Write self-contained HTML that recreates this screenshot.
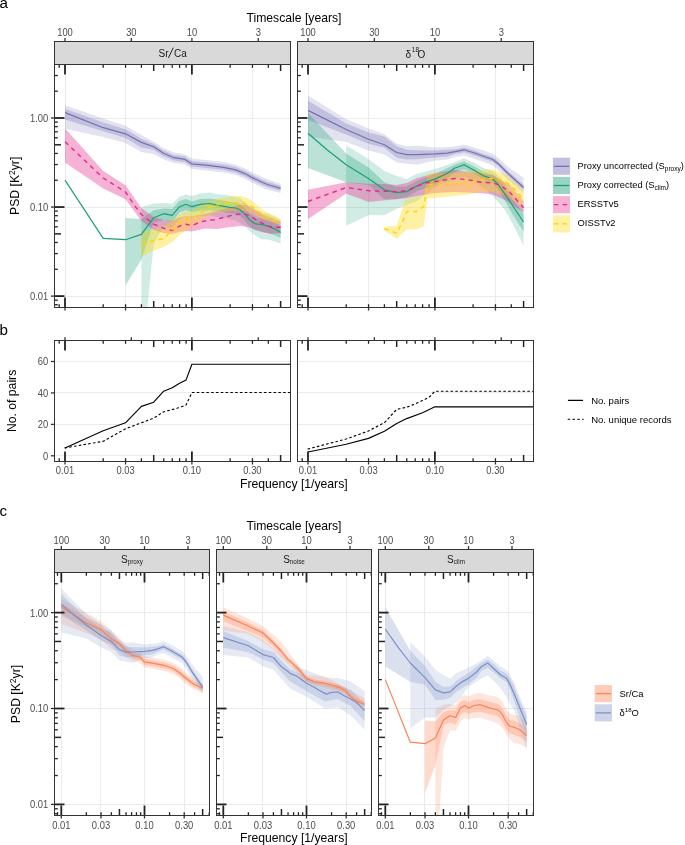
<!DOCTYPE html>
<html><head><meta charset="utf-8"><style>
html,body{margin:0;padding:0;background:#fff;}
svg{display:block;font-family:"Liberation Sans", sans-serif;will-change:transform;}
</style></head><body>
<svg width="685" height="845" viewBox="0 0 685 845">
<rect width="685" height="845" fill="#fff"/>
<text x="-0.60" y="7.80" font-size="15.2" fill="#000" text-anchor="start" >a</text>
<text x="294.00" y="22.30" font-size="12.2" fill="#000" text-anchor="middle" >Timescale [years]</text>
<clipPath id="ca0"><rect x="54.5" y="64.5" width="236.0" height="243.0"/></clipPath>
<line x1="54.50" y1="296.50" x2="290.50" y2="296.50" stroke="#EBEBEB" stroke-width="1" />
<line x1="54.50" y1="207.50" x2="290.50" y2="207.50" stroke="#EBEBEB" stroke-width="1" />
<line x1="54.50" y1="118.50" x2="290.50" y2="118.50" stroke="#EBEBEB" stroke-width="1" />
<line x1="65.50" y1="64.50" x2="65.50" y2="307.50" stroke="#EBEBEB" stroke-width="1" />
<line x1="125.50" y1="64.50" x2="125.50" y2="307.50" stroke="#EBEBEB" stroke-width="1" />
<line x1="191.50" y1="64.50" x2="191.50" y2="307.50" stroke="#EBEBEB" stroke-width="1" />
<line x1="252.50" y1="64.50" x2="252.50" y2="307.50" stroke="#EBEBEB" stroke-width="1" />
<rect x="54.50" y="41.50" width="236.00" height="23.00" fill="#D9D9D9" stroke="#333333" stroke-width="1" />
<line x1="65.00" y1="37.90" x2="65.00" y2="41.50" stroke="#333333" stroke-width="1.3" />
<text transform="translate(65.00,35.60) scale(1,1.13)" font-size="9.4" fill="#4D4D4D" text-anchor="middle">100</text>
<line x1="131.35" y1="37.90" x2="131.35" y2="41.50" stroke="#333333" stroke-width="1.3" />
<text transform="translate(131.35,35.60) scale(1,1.13)" font-size="9.4" fill="#4D4D4D" text-anchor="middle">30</text>
<line x1="191.90" y1="37.90" x2="191.90" y2="41.50" stroke="#333333" stroke-width="1.3" />
<text transform="translate(191.90,35.60) scale(1,1.13)" font-size="9.4" fill="#4D4D4D" text-anchor="middle">10</text>
<line x1="258.25" y1="37.90" x2="258.25" y2="41.50" stroke="#333333" stroke-width="1.3" />
<text transform="translate(258.25,35.60) scale(1,1.13)" font-size="9.4" fill="#4D4D4D" text-anchor="middle">3</text>
<line x1="65.00" y1="307.50" x2="65.00" y2="310.50" stroke="#333333" stroke-width="1.3" />
<line x1="125.55" y1="307.50" x2="125.55" y2="310.50" stroke="#333333" stroke-width="1.3" />
<line x1="191.90" y1="307.50" x2="191.90" y2="310.50" stroke="#333333" stroke-width="1.3" />
<line x1="252.45" y1="307.50" x2="252.45" y2="310.50" stroke="#333333" stroke-width="1.3" />
<g id="adata0"></g>
<polygon points="65.0,105.2 103.2,118.5 125.5,125.7 141.4,135.1 153.7,141.7 163.5,148.0 174.0,152.5 185.0,154.2 191.7,158.6 206.0,160.0 223.6,162.1 235.8,164.7 246.3,169.1 252.8,172.7 262.1,177.0 267.4,179.3 280.6,183.7 280.6,192.9 267.4,189.7 262.1,187.4 252.8,183.1 246.3,179.5 235.8,175.1 223.6,172.5 206.0,170.4 191.7,169.0 185.0,164.6 174.0,163.0 163.5,159.5 153.7,154.1 141.4,151.9 125.5,143.0 103.2,136.9 65.0,128.7" fill="#7570B3" fill-opacity="0.2" clip-path="url(#ca0)"/>
<polygon points="65.0,108.8 103.2,122.6 125.5,129.2 141.4,138.8 153.7,143.9 163.5,150.5 174.0,155.0 185.0,156.6 191.7,161.0 206.0,162.4 223.6,164.5 235.8,167.1 246.3,171.5 252.8,175.1 262.1,179.4 267.4,181.7 280.6,185.8 280.6,190.8 267.4,187.3 262.1,185.0 252.8,180.7 246.3,177.1 235.8,172.7 223.6,170.1 206.0,168.0 191.7,166.6 185.0,162.2 174.0,160.5 163.5,156.2 153.7,149.7 141.4,147.6 125.5,137.9 103.2,131.3 65.0,119.5" fill="#7570B3" fill-opacity="0.3" clip-path="url(#ca0)"/>
<polygon points="141.4,207.0 153.7,203.5 163.7,203.0 172.2,203.8 179.6,196.5 186.1,194.5 191.9,196.0 200.4,193.5 209.7,192.5 216.7,194.0 228.4,195.2 235.4,196.5 240.0,198.0 244.7,202.0 249.4,207.5 255.2,211.5 261.1,212.5 268.1,214.0 275.1,217.0 280.6,220.5 280.6,243.6 275.1,241.5 268.1,239.5 261.1,239.3 255.2,235.5 249.4,231.0 244.7,226.1 240.0,223.0 235.4,220.5 228.4,219.0 216.7,217.0 209.7,215.5 200.4,216.0 191.9,217.0 186.1,216.0 179.6,219.0 172.2,228.0 163.7,227.0 153.7,243.7 141.4,367.0" fill="#1B9E77" fill-opacity="0.2" clip-path="url(#ca0)"/>
<polygon points="125.5,218.1 141.4,219.0 153.7,210.2 163.7,208.5 172.2,209.0 179.6,200.8 186.1,199.1 191.9,201.4 200.4,199.0 209.7,198.5 216.7,199.5 228.4,201.5 235.4,202.5 240.0,204.0 244.7,208.0 249.4,213.5 255.2,217.5 261.1,218.5 268.1,220.0 275.1,223.0 280.6,226.5 280.6,238.0 275.1,235.5 268.1,233.0 261.1,231.5 255.2,230.5 249.4,226.5 244.7,220.5 240.0,216.0 235.4,214.0 228.4,213.0 216.7,211.0 209.7,210.2 200.4,210.5 191.9,211.9 186.1,210.2 179.6,212.5 172.2,221.9 163.7,220.1 153.7,222.4 141.4,259.6 125.5,285.5" fill="#1B9E77" fill-opacity="0.3" clip-path="url(#ca0)"/>
<polygon points="65.0,128.3 103.2,170.9 125.5,185.3 141.4,208.0 153.7,217.0 163.7,220.0 172.2,221.0 179.6,217.5 186.1,216.0 191.9,216.5 205.0,213.9 216.7,211.0 228.4,208.0 240.0,204.5 247.0,205.1 254.0,208.6 263.4,215.0 280.6,221.5 280.6,233.1 270.4,233.7 263.4,232.6 255.2,229.6 247.0,226.7 240.0,226.1 228.4,227.3 216.7,229.0 205.0,228.5 191.9,231.5 186.1,231.0 179.6,232.0 172.2,234.0 163.7,233.0 153.7,229.9 141.4,221.1 125.5,199.2 103.2,188.4 65.0,162.4" fill="#E7298A" fill-opacity="0.36" clip-path="url(#ca0)"/>
<polygon points="141.4,232.0 153.7,229.0 163.7,226.5 172.2,220.0 179.6,214.0 186.1,211.5 191.9,210.5 200.4,206.0 205.0,202.2 216.7,199.3 228.4,196.9 240.0,195.8 249.4,198.7 256.4,204.5 263.4,210.4 280.6,218.5 280.6,225.0 263.4,219.7 255.2,215.0 247.0,211.5 240.0,210.4 228.4,210.9 216.7,212.7 205.0,217.4 200.4,222.0 191.9,227.5 186.1,230.0 179.6,235.0 172.2,242.0 163.7,247.0 153.7,250.5 141.4,257.0" fill="#FFD700" fill-opacity="0.36" clip-path="url(#ca0)"/>
<polyline points="65.0,112.6 103.2,127.7 125.5,133.8 141.4,142.4 153.7,146.8 163.5,153.3 174.0,157.7 185.0,159.4 191.7,163.8 206.0,165.2 223.6,167.3 235.8,169.9 246.3,174.3 252.8,177.9 262.1,182.2 267.4,184.5 280.6,188.3" fill="none" stroke="#7570B3" stroke-width="1.2" stroke-linejoin="round" clip-path="url(#ca0)"/>
<polyline points="65.0,180.2 103.2,238.3 125.5,239.7 141.4,234.4 153.7,217.8 163.7,213.7 172.2,215.4 179.6,206.7 186.1,204.3 191.9,206.7 200.4,204.3 209.7,203.5 216.7,205.1 228.4,207.1 235.4,208.0 240.0,209.8 244.7,213.9 249.4,219.7 255.2,223.8 261.1,224.4 268.1,226.1 275.1,229.1 280.6,232.4" fill="none" stroke="#1B9E77" stroke-width="1.2" stroke-linejoin="round" clip-path="url(#ca0)"/>
<polyline points="65.0,141.7 103.2,178.0 125.5,192.0 135.0,206.1 141.4,214.5 153.7,224.2 163.7,228.3 172.2,230.6 179.6,226.0 186.1,224.2 191.9,225.6 200.4,221.9 209.7,220.1 214.3,219.7 223.7,217.4 235.4,214.5 243.5,213.9 249.4,215.6 255.2,219.1 261.1,222.6 268.1,226.1 275.1,227.3 280.6,227.3" fill="none" stroke="#E7298A" stroke-width="1.4" stroke-linejoin="round" stroke-dasharray="4.5 4.2" clip-path="url(#ca0)"/>
<polyline points="141.4,244.0 153.7,240.5 163.7,238.8 172.2,230.0 179.6,222.4 186.1,219.5 191.9,218.4 200.4,213.7 205.0,209.8 210.8,206.9 216.7,205.1 223.7,203.4 235.4,202.5 244.7,203.4 251.7,206.3 257.6,211.0 263.4,215.0 270.4,219.1 280.6,222.8" fill="none" stroke="#FFD400" stroke-width="1.4" stroke-linejoin="round" stroke-dasharray="4.5 4.2" clip-path="url(#ca0)"/>
<line x1="59.19" y1="64.50" x2="59.19" y2="67.80" stroke="#222222" stroke-width="1.3" />
<line x1="59.19" y1="307.50" x2="59.19" y2="304.20" stroke="#222222" stroke-width="1.3" />
<line x1="65.00" y1="64.50" x2="65.00" y2="74.50" stroke="#222222" stroke-width="1.8" />
<line x1="65.00" y1="307.50" x2="65.00" y2="297.50" stroke="#222222" stroke-width="1.8" />
<line x1="103.20" y1="64.50" x2="103.20" y2="67.80" stroke="#222222" stroke-width="1.3" />
<line x1="103.20" y1="307.50" x2="103.20" y2="304.20" stroke="#222222" stroke-width="1.3" />
<line x1="125.55" y1="64.50" x2="125.55" y2="67.80" stroke="#222222" stroke-width="1.3" />
<line x1="125.55" y1="307.50" x2="125.55" y2="304.20" stroke="#222222" stroke-width="1.3" />
<line x1="141.40" y1="64.50" x2="141.40" y2="67.80" stroke="#222222" stroke-width="1.3" />
<line x1="141.40" y1="307.50" x2="141.40" y2="304.20" stroke="#222222" stroke-width="1.3" />
<line x1="153.70" y1="64.50" x2="153.70" y2="71.00" stroke="#222222" stroke-width="1.5" />
<line x1="153.70" y1="307.50" x2="153.70" y2="301.00" stroke="#222222" stroke-width="1.5" />
<line x1="163.75" y1="64.50" x2="163.75" y2="67.80" stroke="#222222" stroke-width="1.3" />
<line x1="163.75" y1="307.50" x2="163.75" y2="304.20" stroke="#222222" stroke-width="1.3" />
<line x1="172.24" y1="64.50" x2="172.24" y2="67.80" stroke="#222222" stroke-width="1.3" />
<line x1="172.24" y1="307.50" x2="172.24" y2="304.20" stroke="#222222" stroke-width="1.3" />
<line x1="179.60" y1="64.50" x2="179.60" y2="67.80" stroke="#222222" stroke-width="1.3" />
<line x1="179.60" y1="307.50" x2="179.60" y2="304.20" stroke="#222222" stroke-width="1.3" />
<line x1="186.09" y1="64.50" x2="186.09" y2="67.80" stroke="#222222" stroke-width="1.3" />
<line x1="186.09" y1="307.50" x2="186.09" y2="304.20" stroke="#222222" stroke-width="1.3" />
<line x1="191.90" y1="64.50" x2="191.90" y2="74.50" stroke="#222222" stroke-width="1.8" />
<line x1="191.90" y1="307.50" x2="191.90" y2="297.50" stroke="#222222" stroke-width="1.8" />
<line x1="230.10" y1="64.50" x2="230.10" y2="67.80" stroke="#222222" stroke-width="1.3" />
<line x1="230.10" y1="307.50" x2="230.10" y2="304.20" stroke="#222222" stroke-width="1.3" />
<line x1="252.45" y1="64.50" x2="252.45" y2="67.80" stroke="#222222" stroke-width="1.3" />
<line x1="252.45" y1="307.50" x2="252.45" y2="304.20" stroke="#222222" stroke-width="1.3" />
<line x1="268.30" y1="64.50" x2="268.30" y2="67.80" stroke="#222222" stroke-width="1.3" />
<line x1="268.30" y1="307.50" x2="268.30" y2="304.20" stroke="#222222" stroke-width="1.3" />
<line x1="280.60" y1="64.50" x2="280.60" y2="71.00" stroke="#222222" stroke-width="1.5" />
<line x1="280.60" y1="307.50" x2="280.60" y2="301.00" stroke="#222222" stroke-width="1.5" />
<line x1="54.50" y1="304.73" x2="57.80" y2="304.73" stroke="#222222" stroke-width="1.3" />
<line x1="54.50" y1="300.17" x2="57.80" y2="300.17" stroke="#222222" stroke-width="1.3" />
<line x1="54.50" y1="296.10" x2="64.50" y2="296.10" stroke="#222222" stroke-width="1.8" />
<line x1="54.50" y1="269.29" x2="57.80" y2="269.29" stroke="#222222" stroke-width="1.3" />
<line x1="54.50" y1="253.61" x2="57.80" y2="253.61" stroke="#222222" stroke-width="1.3" />
<line x1="54.50" y1="242.49" x2="57.80" y2="242.49" stroke="#222222" stroke-width="1.3" />
<line x1="54.50" y1="233.86" x2="61.00" y2="233.86" stroke="#222222" stroke-width="1.5" />
<line x1="54.50" y1="226.81" x2="57.80" y2="226.81" stroke="#222222" stroke-width="1.3" />
<line x1="54.50" y1="220.84" x2="57.80" y2="220.84" stroke="#222222" stroke-width="1.3" />
<line x1="54.50" y1="215.68" x2="57.80" y2="215.68" stroke="#222222" stroke-width="1.3" />
<line x1="54.50" y1="211.12" x2="57.80" y2="211.12" stroke="#222222" stroke-width="1.3" />
<line x1="54.50" y1="207.05" x2="64.50" y2="207.05" stroke="#222222" stroke-width="1.8" />
<line x1="54.50" y1="180.24" x2="57.80" y2="180.24" stroke="#222222" stroke-width="1.3" />
<line x1="54.50" y1="164.56" x2="57.80" y2="164.56" stroke="#222222" stroke-width="1.3" />
<line x1="54.50" y1="153.44" x2="57.80" y2="153.44" stroke="#222222" stroke-width="1.3" />
<line x1="54.50" y1="144.81" x2="61.00" y2="144.81" stroke="#222222" stroke-width="1.5" />
<line x1="54.50" y1="137.76" x2="57.80" y2="137.76" stroke="#222222" stroke-width="1.3" />
<line x1="54.50" y1="131.79" x2="57.80" y2="131.79" stroke="#222222" stroke-width="1.3" />
<line x1="54.50" y1="126.63" x2="57.80" y2="126.63" stroke="#222222" stroke-width="1.3" />
<line x1="54.50" y1="122.07" x2="57.80" y2="122.07" stroke="#222222" stroke-width="1.3" />
<line x1="54.50" y1="118.00" x2="64.50" y2="118.00" stroke="#222222" stroke-width="1.8" />
<line x1="54.50" y1="91.19" x2="57.80" y2="91.19" stroke="#222222" stroke-width="1.3" />
<line x1="54.50" y1="75.51" x2="57.80" y2="75.51" stroke="#222222" stroke-width="1.3" />
<rect x="54.50" y="64.50" width="236.00" height="243.00" fill="none" stroke="#333333" stroke-width="1" />
<clipPath id="ca1"><rect x="297.5" y="64.5" width="236.0" height="243.0"/></clipPath>
<line x1="297.50" y1="296.50" x2="533.50" y2="296.50" stroke="#EBEBEB" stroke-width="1" />
<line x1="297.50" y1="207.50" x2="533.50" y2="207.50" stroke="#EBEBEB" stroke-width="1" />
<line x1="297.50" y1="118.50" x2="533.50" y2="118.50" stroke="#EBEBEB" stroke-width="1" />
<line x1="308.50" y1="64.50" x2="308.50" y2="307.50" stroke="#EBEBEB" stroke-width="1" />
<line x1="368.50" y1="64.50" x2="368.50" y2="307.50" stroke="#EBEBEB" stroke-width="1" />
<line x1="434.50" y1="64.50" x2="434.50" y2="307.50" stroke="#EBEBEB" stroke-width="1" />
<line x1="495.50" y1="64.50" x2="495.50" y2="307.50" stroke="#EBEBEB" stroke-width="1" />
<rect x="297.50" y="41.50" width="236.00" height="23.00" fill="#D9D9D9" stroke="#333333" stroke-width="1" />
<line x1="308.00" y1="37.90" x2="308.00" y2="41.50" stroke="#333333" stroke-width="1.3" />
<text transform="translate(308.00,35.60) scale(1,1.13)" font-size="9.4" fill="#4D4D4D" text-anchor="middle">100</text>
<line x1="374.35" y1="37.90" x2="374.35" y2="41.50" stroke="#333333" stroke-width="1.3" />
<text transform="translate(374.35,35.60) scale(1,1.13)" font-size="9.4" fill="#4D4D4D" text-anchor="middle">30</text>
<line x1="434.90" y1="37.90" x2="434.90" y2="41.50" stroke="#333333" stroke-width="1.3" />
<text transform="translate(434.90,35.60) scale(1,1.13)" font-size="9.4" fill="#4D4D4D" text-anchor="middle">10</text>
<line x1="501.25" y1="37.90" x2="501.25" y2="41.50" stroke="#333333" stroke-width="1.3" />
<text transform="translate(501.25,35.60) scale(1,1.13)" font-size="9.4" fill="#4D4D4D" text-anchor="middle">3</text>
<line x1="308.00" y1="307.50" x2="308.00" y2="310.50" stroke="#333333" stroke-width="1.3" />
<line x1="368.55" y1="307.50" x2="368.55" y2="310.50" stroke="#333333" stroke-width="1.3" />
<line x1="434.90" y1="307.50" x2="434.90" y2="310.50" stroke="#333333" stroke-width="1.3" />
<line x1="495.45" y1="307.50" x2="495.45" y2="310.50" stroke="#333333" stroke-width="1.3" />
<g id="adata1"></g>
<polygon points="308.0,95.5 346.2,119.3 368.5,128.5 384.4,134.2 396.7,143.7 406.7,146.3 417.0,145.5 434.9,147.6 447.3,147.0 455.0,146.5 464.1,144.6 474.5,147.5 483.6,150.5 492.7,153.7 497.9,157.5 507.0,166.0 523.6,177.7 523.6,193.3 507.0,179.0 497.9,169.5 492.7,165.4 483.6,162.0 474.5,159.0 464.1,155.6 455.0,157.0 447.3,159.5 434.9,160.4 417.0,164.7 406.7,163.7 396.7,162.6 384.4,154.5 368.5,150.5 346.2,142.0 308.0,136.6" fill="#7570B3" fill-opacity="0.2" clip-path="url(#ca1)"/>
<polygon points="308.0,100.8 346.2,123.4 368.5,132.6 384.4,136.5 396.7,146.3 406.7,149.8 417.0,150.2 434.9,150.5 447.3,149.8 455.0,149.3 464.1,147.4 474.5,150.6 483.6,153.9 492.7,157.1 497.9,161.0 507.0,170.0 523.6,184.8 523.6,190.2 507.0,175.0 497.9,165.8 492.7,161.9 483.6,158.7 474.5,155.4 464.1,152.2 455.0,154.1 447.3,156.6 434.9,157.5 417.0,159.3 406.7,159.5 396.7,157.7 384.4,147.8 368.5,143.8 346.2,134.6 308.0,120.1" fill="#7570B3" fill-opacity="0.3" clip-path="url(#ca1)"/>
<polygon points="346.2,145.5 368.5,159.0 384.4,171.0 396.7,176.1 406.8,179.3 415.2,174.5 417.0,174.0 434.9,169.0 447.3,165.0 455.0,162.0 464.1,158.2 474.5,163.0 483.6,168.0 492.7,171.0 497.9,175.5 504.4,183.0 512.2,195.0 523.6,210.2 523.6,245.4 512.2,223.0 504.4,209.0 497.9,202.0 492.7,196.0 483.6,188.0 474.5,182.0 464.1,176.5 455.0,179.0 447.3,182.0 434.9,187.0 417.0,201.1 406.8,204.9 396.7,208.7 384.4,215.3 368.5,215.3 346.2,225.7" fill="#1B9E77" fill-opacity="0.2" clip-path="url(#ca1)"/>
<polygon points="308.0,113.1 346.2,153.4 368.5,167.5 384.4,182.2 396.7,187.0 406.8,186.5 417.0,181.0 434.9,174.0 447.3,168.0 455.0,164.5 464.1,161.5 474.5,166.5 483.6,171.9 492.7,174.5 497.9,178.5 504.4,186.2 512.2,199.0 523.6,214.1 523.6,231.7 512.2,214.0 504.4,199.8 497.9,189.0 492.7,182.5 483.6,179.0 474.5,174.0 464.1,169.3 455.0,172.0 447.3,178.5 434.9,184.5 417.0,191.0 406.8,197.0 396.7,199.0 384.4,199.2 368.5,185.0 346.2,182.2 308.0,168.0" fill="#1B9E77" fill-opacity="0.3" clip-path="url(#ca1)"/>
<polygon points="308.0,189.8 346.2,182.2 368.5,183.7 384.4,184.1 396.7,185.0 406.8,183.1 417.0,178.0 434.9,173.2 455.0,169.9 481.0,173.8 492.7,175.0 509.6,185.0 523.6,201.1 523.6,212.8 507.0,201.1 492.7,194.6 481.0,193.3 455.0,192.0 434.9,192.9 417.0,196.0 406.8,198.3 396.7,199.2 384.4,200.2 368.5,202.1 346.2,193.5 308.0,219.1" fill="#E7298A" fill-opacity="0.36" clip-path="url(#ca1)"/>
<polygon points="384.4,226.5 396.7,226.0 404.9,200.2 406.8,199.8 415.8,197.0 423.6,194.9 427.6,174.2 434.9,173.2 455.0,172.5 481.0,170.6 492.7,169.3 507.0,175.1 523.6,190.7 523.6,207.6 507.0,196.0 492.7,192.0 481.0,192.0 468.0,194.6 455.0,196.0 434.9,197.8 427.6,198.8 423.6,226.4 415.8,229.4 406.8,229.4 404.9,231.0 396.7,239.0 384.4,230.5" fill="#FFD700" fill-opacity="0.36" clip-path="url(#ca1)"/>
<polyline points="308.0,110.4 346.2,129.5 368.5,139.2 384.4,144.7 396.7,152.5 406.7,154.7 417.0,154.6 434.9,153.9 447.3,153.1 455.0,151.7 464.1,149.8 474.5,153.0 483.6,156.3 492.7,159.5 497.9,163.4 507.0,172.5 523.6,187.5" fill="none" stroke="#7570B3" stroke-width="1.2" stroke-linejoin="round" clip-path="url(#ca1)"/>
<polyline points="308.0,133.2 327.3,150.0 346.2,164.8 368.5,178.4 384.4,189.8 396.7,192.6 406.8,191.6 417.0,186.0 425.6,182.1 434.9,179.1 447.3,173.2 455.0,168.0 464.1,164.7 474.5,170.6 483.6,175.8 492.7,179.0 497.9,184.2 504.4,193.3 512.2,205.0 523.6,222.0" fill="none" stroke="#1B9E77" stroke-width="1.2" stroke-linejoin="round" clip-path="url(#ca1)"/>
<polyline points="308.0,201.5 346.2,187.5 368.5,190.7 384.4,191.3 396.7,191.6 406.8,190.7 417.0,186.0 425.6,183.1 434.9,181.5 453.2,178.7 455.0,178.4 468.0,179.7 481.0,182.3 492.7,182.9 500.5,185.5 509.6,192.0 523.6,207.8" fill="none" stroke="#E7298A" stroke-width="1.4" stroke-linejoin="round" stroke-dasharray="4.5 4.2" clip-path="url(#ca1)"/>
<polyline points="384.4,228.6 396.7,233.3 404.9,216.3 406.8,211.5 415.8,211.6 423.6,206.7 427.6,185.0 434.9,184.1 453.2,184.1 455.0,183.6 468.0,182.3 481.0,179.7 490.1,178.4 499.2,179.0 507.0,182.9 514.8,189.4 523.6,199.5" fill="none" stroke="#FFD400" stroke-width="1.4" stroke-linejoin="round" stroke-dasharray="4.5 4.2" clip-path="url(#ca1)"/>
<line x1="302.19" y1="64.50" x2="302.19" y2="67.80" stroke="#222222" stroke-width="1.3" />
<line x1="302.19" y1="307.50" x2="302.19" y2="304.20" stroke="#222222" stroke-width="1.3" />
<line x1="308.00" y1="64.50" x2="308.00" y2="74.50" stroke="#222222" stroke-width="1.8" />
<line x1="308.00" y1="307.50" x2="308.00" y2="297.50" stroke="#222222" stroke-width="1.8" />
<line x1="346.20" y1="64.50" x2="346.20" y2="67.80" stroke="#222222" stroke-width="1.3" />
<line x1="346.20" y1="307.50" x2="346.20" y2="304.20" stroke="#222222" stroke-width="1.3" />
<line x1="368.55" y1="64.50" x2="368.55" y2="67.80" stroke="#222222" stroke-width="1.3" />
<line x1="368.55" y1="307.50" x2="368.55" y2="304.20" stroke="#222222" stroke-width="1.3" />
<line x1="384.40" y1="64.50" x2="384.40" y2="67.80" stroke="#222222" stroke-width="1.3" />
<line x1="384.40" y1="307.50" x2="384.40" y2="304.20" stroke="#222222" stroke-width="1.3" />
<line x1="396.70" y1="64.50" x2="396.70" y2="71.00" stroke="#222222" stroke-width="1.5" />
<line x1="396.70" y1="307.50" x2="396.70" y2="301.00" stroke="#222222" stroke-width="1.5" />
<line x1="406.75" y1="64.50" x2="406.75" y2="67.80" stroke="#222222" stroke-width="1.3" />
<line x1="406.75" y1="307.50" x2="406.75" y2="304.20" stroke="#222222" stroke-width="1.3" />
<line x1="415.24" y1="64.50" x2="415.24" y2="67.80" stroke="#222222" stroke-width="1.3" />
<line x1="415.24" y1="307.50" x2="415.24" y2="304.20" stroke="#222222" stroke-width="1.3" />
<line x1="422.60" y1="64.50" x2="422.60" y2="67.80" stroke="#222222" stroke-width="1.3" />
<line x1="422.60" y1="307.50" x2="422.60" y2="304.20" stroke="#222222" stroke-width="1.3" />
<line x1="429.09" y1="64.50" x2="429.09" y2="67.80" stroke="#222222" stroke-width="1.3" />
<line x1="429.09" y1="307.50" x2="429.09" y2="304.20" stroke="#222222" stroke-width="1.3" />
<line x1="434.90" y1="64.50" x2="434.90" y2="74.50" stroke="#222222" stroke-width="1.8" />
<line x1="434.90" y1="307.50" x2="434.90" y2="297.50" stroke="#222222" stroke-width="1.8" />
<line x1="473.10" y1="64.50" x2="473.10" y2="67.80" stroke="#222222" stroke-width="1.3" />
<line x1="473.10" y1="307.50" x2="473.10" y2="304.20" stroke="#222222" stroke-width="1.3" />
<line x1="495.45" y1="64.50" x2="495.45" y2="67.80" stroke="#222222" stroke-width="1.3" />
<line x1="495.45" y1="307.50" x2="495.45" y2="304.20" stroke="#222222" stroke-width="1.3" />
<line x1="511.30" y1="64.50" x2="511.30" y2="67.80" stroke="#222222" stroke-width="1.3" />
<line x1="511.30" y1="307.50" x2="511.30" y2="304.20" stroke="#222222" stroke-width="1.3" />
<line x1="523.60" y1="64.50" x2="523.60" y2="71.00" stroke="#222222" stroke-width="1.5" />
<line x1="523.60" y1="307.50" x2="523.60" y2="301.00" stroke="#222222" stroke-width="1.5" />
<line x1="297.50" y1="304.73" x2="300.80" y2="304.73" stroke="#222222" stroke-width="1.3" />
<line x1="297.50" y1="300.17" x2="300.80" y2="300.17" stroke="#222222" stroke-width="1.3" />
<line x1="297.50" y1="296.10" x2="307.50" y2="296.10" stroke="#222222" stroke-width="1.8" />
<line x1="297.50" y1="269.29" x2="300.80" y2="269.29" stroke="#222222" stroke-width="1.3" />
<line x1="297.50" y1="253.61" x2="300.80" y2="253.61" stroke="#222222" stroke-width="1.3" />
<line x1="297.50" y1="242.49" x2="300.80" y2="242.49" stroke="#222222" stroke-width="1.3" />
<line x1="297.50" y1="233.86" x2="304.00" y2="233.86" stroke="#222222" stroke-width="1.5" />
<line x1="297.50" y1="226.81" x2="300.80" y2="226.81" stroke="#222222" stroke-width="1.3" />
<line x1="297.50" y1="220.84" x2="300.80" y2="220.84" stroke="#222222" stroke-width="1.3" />
<line x1="297.50" y1="215.68" x2="300.80" y2="215.68" stroke="#222222" stroke-width="1.3" />
<line x1="297.50" y1="211.12" x2="300.80" y2="211.12" stroke="#222222" stroke-width="1.3" />
<line x1="297.50" y1="207.05" x2="307.50" y2="207.05" stroke="#222222" stroke-width="1.8" />
<line x1="297.50" y1="180.24" x2="300.80" y2="180.24" stroke="#222222" stroke-width="1.3" />
<line x1="297.50" y1="164.56" x2="300.80" y2="164.56" stroke="#222222" stroke-width="1.3" />
<line x1="297.50" y1="153.44" x2="300.80" y2="153.44" stroke="#222222" stroke-width="1.3" />
<line x1="297.50" y1="144.81" x2="304.00" y2="144.81" stroke="#222222" stroke-width="1.5" />
<line x1="297.50" y1="137.76" x2="300.80" y2="137.76" stroke="#222222" stroke-width="1.3" />
<line x1="297.50" y1="131.79" x2="300.80" y2="131.79" stroke="#222222" stroke-width="1.3" />
<line x1="297.50" y1="126.63" x2="300.80" y2="126.63" stroke="#222222" stroke-width="1.3" />
<line x1="297.50" y1="122.07" x2="300.80" y2="122.07" stroke="#222222" stroke-width="1.3" />
<line x1="297.50" y1="118.00" x2="307.50" y2="118.00" stroke="#222222" stroke-width="1.8" />
<line x1="297.50" y1="91.19" x2="300.80" y2="91.19" stroke="#222222" stroke-width="1.3" />
<line x1="297.50" y1="75.51" x2="300.80" y2="75.51" stroke="#222222" stroke-width="1.3" />
<rect x="297.50" y="64.50" width="236.00" height="243.00" fill="none" stroke="#333333" stroke-width="1" />
<text x="158.60" y="56.60" font-size="10" fill="#1A1A1A" text-anchor="start" >Sr</text>
<line x1="168.40" y1="58.00" x2="173.30" y2="47.60" stroke="#1A1A1A" stroke-width="0.95" />
<text x="174.00" y="56.60" font-size="10" fill="#1A1A1A" text-anchor="start" >Ca</text>
<text x="405.60" y="57.60" font-size="10" fill="#1A1A1A" text-anchor="start" >δ</text>
<text x="411.80" y="52.40" font-size="6.5" fill="#1A1A1A" text-anchor="start" >18</text>
<text x="417.50" y="57.60" font-size="10" fill="#1A1A1A" text-anchor="start" >O</text>
<line x1="50.90" y1="118.00" x2="54.50" y2="118.00" stroke="#333333" stroke-width="1.3" />
<text transform="translate(48.30,121.90) scale(1,1.13)" font-size="9.4" fill="#4D4D4D" text-anchor="end">1.00</text>
<line x1="50.90" y1="207.05" x2="54.50" y2="207.05" stroke="#333333" stroke-width="1.3" />
<text transform="translate(48.30,210.95) scale(1,1.13)" font-size="9.4" fill="#4D4D4D" text-anchor="end">0.10</text>
<line x1="50.90" y1="296.10" x2="54.50" y2="296.10" stroke="#333333" stroke-width="1.3" />
<text transform="translate(48.30,300.00) scale(1,1.13)" font-size="9.4" fill="#4D4D4D" text-anchor="end">0.01</text>
<text transform="translate(19.3,185.8) rotate(-90)" font-size="12.2" fill="#000" text-anchor="middle">PSD [K<tspan dy="-4.5" font-size="8.5">2</tspan><tspan dy="4.5">yr]</tspan></text>
<rect x="552.90" y="157.70" width="17.20" height="17.10" fill="#7570B3" stroke="none" stroke-width="0" fill-opacity="0.44"/>
<line x1="553.90" y1="166.30" x2="569.20" y2="166.30" stroke="#7570B3" stroke-width="1.3" />
<text x="577.5" y="168.60" font-size="9.3" fill="#000">Proxy uncorrected (S<tspan font-size="6.5" dy="2.4">proxy</tspan><tspan dy="-2.4">)</tspan></text>
<rect x="552.90" y="176.90" width="17.20" height="17.10" fill="#1B9E77" stroke="none" stroke-width="0" fill-opacity="0.44"/>
<line x1="553.90" y1="185.50" x2="569.20" y2="185.50" stroke="#1B9E77" stroke-width="1.3" />
<text x="577.5" y="187.80" font-size="9.3" fill="#000">Proxy corrected (S<tspan font-size="6.5" dy="2.4">clim</tspan><tspan dy="-2.4">)</tspan></text>
<rect x="552.90" y="196.10" width="17.20" height="17.10" fill="#E7298A" stroke="none" stroke-width="0" fill-opacity="0.36"/>
<line x1="553.90" y1="204.70" x2="569.20" y2="204.70" stroke="#E7298A" stroke-width="1.3" stroke-dasharray="4.5 4.2"/>
<text x="577.50" y="207.00" font-size="9.4" fill="#000" text-anchor="start" >ERSSTv5</text>
<rect x="552.90" y="215.30" width="17.20" height="17.10" fill="#FFD700" stroke="none" stroke-width="0" fill-opacity="0.36"/>
<line x1="553.90" y1="223.90" x2="569.20" y2="223.90" stroke="#FFD400" stroke-width="1.3" stroke-dasharray="4.5 4.2"/>
<text x="577.50" y="226.20" font-size="9.4" fill="#000" text-anchor="start" >OISSTv2</text>
<text x="-0.60" y="334.80" font-size="15.2" fill="#000" text-anchor="start" >b</text>
<line x1="54.50" y1="455.50" x2="290.50" y2="455.50" stroke="#EBEBEB" stroke-width="1" />
<line x1="54.50" y1="424.50" x2="290.50" y2="424.50" stroke="#EBEBEB" stroke-width="1" />
<line x1="54.50" y1="392.50" x2="290.50" y2="392.50" stroke="#EBEBEB" stroke-width="1" />
<line x1="54.50" y1="361.50" x2="290.50" y2="361.50" stroke="#EBEBEB" stroke-width="1" />
<line x1="65.00" y1="337.30" x2="65.00" y2="340.50" stroke="#333333" stroke-width="1.3" />
<line x1="131.35" y1="337.30" x2="131.35" y2="340.50" stroke="#333333" stroke-width="1.3" />
<line x1="191.90" y1="337.30" x2="191.90" y2="340.50" stroke="#333333" stroke-width="1.3" />
<line x1="258.25" y1="337.30" x2="258.25" y2="340.50" stroke="#333333" stroke-width="1.3" />
<line x1="65.00" y1="461.50" x2="65.00" y2="464.50" stroke="#333333" stroke-width="1.3" />
<text transform="translate(65.00,474.30) scale(1,1.13)" font-size="9.4" fill="#4D4D4D" text-anchor="middle">0.01</text>
<line x1="125.55" y1="461.50" x2="125.55" y2="464.50" stroke="#333333" stroke-width="1.3" />
<text transform="translate(125.55,474.30) scale(1,1.13)" font-size="9.4" fill="#4D4D4D" text-anchor="middle">0.03</text>
<line x1="191.90" y1="461.50" x2="191.90" y2="464.50" stroke="#333333" stroke-width="1.3" />
<text transform="translate(191.90,474.30) scale(1,1.13)" font-size="9.4" fill="#4D4D4D" text-anchor="middle">0.10</text>
<line x1="252.45" y1="461.50" x2="252.45" y2="464.50" stroke="#333333" stroke-width="1.3" />
<text transform="translate(252.45,474.30) scale(1,1.13)" font-size="9.4" fill="#4D4D4D" text-anchor="middle">0.30</text>
<polyline points="65.0,447.9 103.2,430.7 125.5,422.8 141.4,406.4 153.7,402.2 163.7,391.2 172.2,387.7 179.6,383.2 186.1,379.9 191.9,364.2 290.5,364.2" fill="none" stroke="#000" stroke-width="1.15" stroke-linejoin="round"/><polyline points="65.0,447.9 103.2,441.3 125.5,428.8 141.4,422.8 153.7,418.1 163.7,411.8 172.2,409.6 179.6,407.5 186.1,405.0 191.9,392.5 290.5,392.5" fill="none" stroke="#000" stroke-width="1.15" stroke-linejoin="round" stroke-dasharray="1.7 3.1" stroke-linecap="round"/>
<line x1="59.19" y1="340.50" x2="59.19" y2="343.80" stroke="#222222" stroke-width="1.3" />
<line x1="59.19" y1="461.50" x2="59.19" y2="458.20" stroke="#222222" stroke-width="1.3" />
<line x1="65.00" y1="340.50" x2="65.00" y2="350.50" stroke="#222222" stroke-width="1.8" />
<line x1="65.00" y1="461.50" x2="65.00" y2="451.50" stroke="#222222" stroke-width="1.8" />
<line x1="103.20" y1="340.50" x2="103.20" y2="343.80" stroke="#222222" stroke-width="1.3" />
<line x1="103.20" y1="461.50" x2="103.20" y2="458.20" stroke="#222222" stroke-width="1.3" />
<line x1="125.55" y1="340.50" x2="125.55" y2="343.80" stroke="#222222" stroke-width="1.3" />
<line x1="125.55" y1="461.50" x2="125.55" y2="458.20" stroke="#222222" stroke-width="1.3" />
<line x1="141.40" y1="340.50" x2="141.40" y2="343.80" stroke="#222222" stroke-width="1.3" />
<line x1="141.40" y1="461.50" x2="141.40" y2="458.20" stroke="#222222" stroke-width="1.3" />
<line x1="153.70" y1="340.50" x2="153.70" y2="347.00" stroke="#222222" stroke-width="1.5" />
<line x1="153.70" y1="461.50" x2="153.70" y2="455.00" stroke="#222222" stroke-width="1.5" />
<line x1="163.75" y1="340.50" x2="163.75" y2="343.80" stroke="#222222" stroke-width="1.3" />
<line x1="163.75" y1="461.50" x2="163.75" y2="458.20" stroke="#222222" stroke-width="1.3" />
<line x1="172.24" y1="340.50" x2="172.24" y2="343.80" stroke="#222222" stroke-width="1.3" />
<line x1="172.24" y1="461.50" x2="172.24" y2="458.20" stroke="#222222" stroke-width="1.3" />
<line x1="179.60" y1="340.50" x2="179.60" y2="343.80" stroke="#222222" stroke-width="1.3" />
<line x1="179.60" y1="461.50" x2="179.60" y2="458.20" stroke="#222222" stroke-width="1.3" />
<line x1="186.09" y1="340.50" x2="186.09" y2="343.80" stroke="#222222" stroke-width="1.3" />
<line x1="186.09" y1="461.50" x2="186.09" y2="458.20" stroke="#222222" stroke-width="1.3" />
<line x1="191.90" y1="340.50" x2="191.90" y2="350.50" stroke="#222222" stroke-width="1.8" />
<line x1="191.90" y1="461.50" x2="191.90" y2="451.50" stroke="#222222" stroke-width="1.8" />
<line x1="230.10" y1="340.50" x2="230.10" y2="343.80" stroke="#222222" stroke-width="1.3" />
<line x1="230.10" y1="461.50" x2="230.10" y2="458.20" stroke="#222222" stroke-width="1.3" />
<line x1="252.45" y1="340.50" x2="252.45" y2="343.80" stroke="#222222" stroke-width="1.3" />
<line x1="252.45" y1="461.50" x2="252.45" y2="458.20" stroke="#222222" stroke-width="1.3" />
<line x1="268.30" y1="340.50" x2="268.30" y2="343.80" stroke="#222222" stroke-width="1.3" />
<line x1="268.30" y1="461.50" x2="268.30" y2="458.20" stroke="#222222" stroke-width="1.3" />
<line x1="280.60" y1="340.50" x2="280.60" y2="347.00" stroke="#222222" stroke-width="1.5" />
<line x1="280.60" y1="461.50" x2="280.60" y2="455.00" stroke="#222222" stroke-width="1.5" />
<rect x="54.50" y="340.50" width="236.00" height="121.00" fill="none" stroke="#333333" stroke-width="1" />
<line x1="297.50" y1="455.50" x2="533.50" y2="455.50" stroke="#EBEBEB" stroke-width="1" />
<line x1="297.50" y1="424.50" x2="533.50" y2="424.50" stroke="#EBEBEB" stroke-width="1" />
<line x1="297.50" y1="392.50" x2="533.50" y2="392.50" stroke="#EBEBEB" stroke-width="1" />
<line x1="297.50" y1="361.50" x2="533.50" y2="361.50" stroke="#EBEBEB" stroke-width="1" />
<line x1="308.00" y1="337.30" x2="308.00" y2="340.50" stroke="#333333" stroke-width="1.3" />
<line x1="374.35" y1="337.30" x2="374.35" y2="340.50" stroke="#333333" stroke-width="1.3" />
<line x1="434.90" y1="337.30" x2="434.90" y2="340.50" stroke="#333333" stroke-width="1.3" />
<line x1="501.25" y1="337.30" x2="501.25" y2="340.50" stroke="#333333" stroke-width="1.3" />
<line x1="308.00" y1="461.50" x2="308.00" y2="464.50" stroke="#333333" stroke-width="1.3" />
<text transform="translate(308.00,474.30) scale(1,1.13)" font-size="9.4" fill="#4D4D4D" text-anchor="middle">0.01</text>
<line x1="368.55" y1="461.50" x2="368.55" y2="464.50" stroke="#333333" stroke-width="1.3" />
<text transform="translate(368.55,474.30) scale(1,1.13)" font-size="9.4" fill="#4D4D4D" text-anchor="middle">0.03</text>
<line x1="434.90" y1="461.50" x2="434.90" y2="464.50" stroke="#333333" stroke-width="1.3" />
<text transform="translate(434.90,474.30) scale(1,1.13)" font-size="9.4" fill="#4D4D4D" text-anchor="middle">0.10</text>
<line x1="495.45" y1="461.50" x2="495.45" y2="464.50" stroke="#333333" stroke-width="1.3" />
<text transform="translate(495.45,474.30) scale(1,1.13)" font-size="9.4" fill="#4D4D4D" text-anchor="middle">0.30</text>
<polyline points="308.0,452.0 346.2,444.3 368.5,438.4 384.4,431.3 396.7,423.6 406.7,418.6 422.6,412.7 434.9,406.8 533.5,406.8" fill="none" stroke="#000" stroke-width="1.15" stroke-linejoin="round"/><polyline points="308.0,449.0 346.2,439.0 368.5,431.0 384.4,422.6 396.7,409.4 406.7,407.2 415.2,403.9 429.1,397.3 434.9,391.2 533.5,391.2" fill="none" stroke="#000" stroke-width="1.15" stroke-linejoin="round" stroke-dasharray="1.7 3.1" stroke-linecap="round"/>
<line x1="302.19" y1="340.50" x2="302.19" y2="343.80" stroke="#222222" stroke-width="1.3" />
<line x1="302.19" y1="461.50" x2="302.19" y2="458.20" stroke="#222222" stroke-width="1.3" />
<line x1="308.00" y1="340.50" x2="308.00" y2="350.50" stroke="#222222" stroke-width="1.8" />
<line x1="308.00" y1="461.50" x2="308.00" y2="451.50" stroke="#222222" stroke-width="1.8" />
<line x1="346.20" y1="340.50" x2="346.20" y2="343.80" stroke="#222222" stroke-width="1.3" />
<line x1="346.20" y1="461.50" x2="346.20" y2="458.20" stroke="#222222" stroke-width="1.3" />
<line x1="368.55" y1="340.50" x2="368.55" y2="343.80" stroke="#222222" stroke-width="1.3" />
<line x1="368.55" y1="461.50" x2="368.55" y2="458.20" stroke="#222222" stroke-width="1.3" />
<line x1="384.40" y1="340.50" x2="384.40" y2="343.80" stroke="#222222" stroke-width="1.3" />
<line x1="384.40" y1="461.50" x2="384.40" y2="458.20" stroke="#222222" stroke-width="1.3" />
<line x1="396.70" y1="340.50" x2="396.70" y2="347.00" stroke="#222222" stroke-width="1.5" />
<line x1="396.70" y1="461.50" x2="396.70" y2="455.00" stroke="#222222" stroke-width="1.5" />
<line x1="406.75" y1="340.50" x2="406.75" y2="343.80" stroke="#222222" stroke-width="1.3" />
<line x1="406.75" y1="461.50" x2="406.75" y2="458.20" stroke="#222222" stroke-width="1.3" />
<line x1="415.24" y1="340.50" x2="415.24" y2="343.80" stroke="#222222" stroke-width="1.3" />
<line x1="415.24" y1="461.50" x2="415.24" y2="458.20" stroke="#222222" stroke-width="1.3" />
<line x1="422.60" y1="340.50" x2="422.60" y2="343.80" stroke="#222222" stroke-width="1.3" />
<line x1="422.60" y1="461.50" x2="422.60" y2="458.20" stroke="#222222" stroke-width="1.3" />
<line x1="429.09" y1="340.50" x2="429.09" y2="343.80" stroke="#222222" stroke-width="1.3" />
<line x1="429.09" y1="461.50" x2="429.09" y2="458.20" stroke="#222222" stroke-width="1.3" />
<line x1="434.90" y1="340.50" x2="434.90" y2="350.50" stroke="#222222" stroke-width="1.8" />
<line x1="434.90" y1="461.50" x2="434.90" y2="451.50" stroke="#222222" stroke-width="1.8" />
<line x1="473.10" y1="340.50" x2="473.10" y2="343.80" stroke="#222222" stroke-width="1.3" />
<line x1="473.10" y1="461.50" x2="473.10" y2="458.20" stroke="#222222" stroke-width="1.3" />
<line x1="495.45" y1="340.50" x2="495.45" y2="343.80" stroke="#222222" stroke-width="1.3" />
<line x1="495.45" y1="461.50" x2="495.45" y2="458.20" stroke="#222222" stroke-width="1.3" />
<line x1="511.30" y1="340.50" x2="511.30" y2="343.80" stroke="#222222" stroke-width="1.3" />
<line x1="511.30" y1="461.50" x2="511.30" y2="458.20" stroke="#222222" stroke-width="1.3" />
<line x1="523.60" y1="340.50" x2="523.60" y2="347.00" stroke="#222222" stroke-width="1.5" />
<line x1="523.60" y1="461.50" x2="523.60" y2="455.00" stroke="#222222" stroke-width="1.5" />
<rect x="297.50" y="340.50" width="236.00" height="121.00" fill="none" stroke="#333333" stroke-width="1" />
<line x1="50.90" y1="455.80" x2="54.50" y2="455.80" stroke="#333333" stroke-width="1.3" />
<text transform="translate(48.30,459.70) scale(1,1.13)" font-size="9.4" fill="#4D4D4D" text-anchor="end">0</text>
<line x1="50.90" y1="424.37" x2="54.50" y2="424.37" stroke="#333333" stroke-width="1.3" />
<text transform="translate(48.30,428.27) scale(1,1.13)" font-size="9.4" fill="#4D4D4D" text-anchor="end">20</text>
<line x1="50.90" y1="392.93" x2="54.50" y2="392.93" stroke="#333333" stroke-width="1.3" />
<text transform="translate(48.30,396.83) scale(1,1.13)" font-size="9.4" fill="#4D4D4D" text-anchor="end">40</text>
<line x1="50.90" y1="361.50" x2="54.50" y2="361.50" stroke="#333333" stroke-width="1.3" />
<text transform="translate(48.30,365.40) scale(1,1.13)" font-size="9.4" fill="#4D4D4D" text-anchor="end">60</text>
<text transform="translate(16.0,400.9) rotate(-90)" font-size="12.2" fill="#000" text-anchor="middle">No. of pairs</text>
<text x="293.80" y="488.20" font-size="12.2" fill="#000" text-anchor="middle" >Frequency [1/years]</text>
<line x1="568.40" y1="400.40" x2="582.50" y2="400.40" stroke="#000" stroke-width="1.1" stroke-linecap="round"/>
<line x1="568.10" y1="419.30" x2="583.20" y2="419.30" stroke="#000" stroke-width="1.1" stroke-linecap="round" stroke-dasharray="1.7 3.1"/>
<text x="591.20" y="404.30" font-size="9.5" fill="#000" text-anchor="start" >No. pairs</text>
<text x="591.20" y="423.40" font-size="9.5" fill="#000" text-anchor="start" >No. unique records</text>
<text x="-0.60" y="516.20" font-size="15.2" fill="#000" text-anchor="start" >c</text>
<text x="294.00" y="529.60" font-size="12.2" fill="#000" text-anchor="middle" >Timescale [years]</text>
<clipPath id="cc0"><rect x="54.5" y="572.5" width="155.0" height="243.0"/></clipPath>
<line x1="54.50" y1="804.50" x2="209.50" y2="804.50" stroke="#EBEBEB" stroke-width="1" />
<line x1="54.50" y1="708.50" x2="209.50" y2="708.50" stroke="#EBEBEB" stroke-width="1" />
<line x1="54.50" y1="612.50" x2="209.50" y2="612.50" stroke="#EBEBEB" stroke-width="1" />
<line x1="61.50" y1="572.50" x2="61.50" y2="815.50" stroke="#EBEBEB" stroke-width="1" />
<line x1="100.50" y1="572.50" x2="100.50" y2="815.50" stroke="#EBEBEB" stroke-width="1" />
<line x1="144.50" y1="572.50" x2="144.50" y2="815.50" stroke="#EBEBEB" stroke-width="1" />
<line x1="184.50" y1="572.50" x2="184.50" y2="815.50" stroke="#EBEBEB" stroke-width="1" />
<rect x="54.50" y="549.50" width="155.00" height="23.00" fill="#D9D9D9" stroke="#333333" stroke-width="1" />
<line x1="61.30" y1="546.10" x2="61.30" y2="549.50" stroke="#333333" stroke-width="1.3" />
<text transform="translate(61.30,543.60) scale(1,1.13)" font-size="9.4" fill="#4D4D4D" text-anchor="middle">100</text>
<line x1="104.80" y1="546.10" x2="104.80" y2="549.50" stroke="#333333" stroke-width="1.3" />
<text transform="translate(104.80,543.60) scale(1,1.13)" font-size="9.4" fill="#4D4D4D" text-anchor="middle">30</text>
<line x1="144.50" y1="546.10" x2="144.50" y2="549.50" stroke="#333333" stroke-width="1.3" />
<text transform="translate(144.50,543.60) scale(1,1.13)" font-size="9.4" fill="#4D4D4D" text-anchor="middle">10</text>
<line x1="188.00" y1="546.10" x2="188.00" y2="549.50" stroke="#333333" stroke-width="1.3" />
<text transform="translate(188.00,543.60) scale(1,1.13)" font-size="9.4" fill="#4D4D4D" text-anchor="middle">3</text>
<line x1="61.30" y1="815.50" x2="61.30" y2="818.50" stroke="#333333" stroke-width="1.3" />
<text transform="translate(61.30,829.20) scale(1,1.13)" font-size="9.4" fill="#4D4D4D" text-anchor="middle">0.01</text>
<line x1="101.00" y1="815.50" x2="101.00" y2="818.50" stroke="#333333" stroke-width="1.3" />
<text transform="translate(101.00,829.20) scale(1,1.13)" font-size="9.4" fill="#4D4D4D" text-anchor="middle">0.03</text>
<line x1="144.50" y1="815.50" x2="144.50" y2="818.50" stroke="#333333" stroke-width="1.3" />
<text transform="translate(144.50,829.20) scale(1,1.13)" font-size="9.4" fill="#4D4D4D" text-anchor="middle">0.10</text>
<line x1="184.20" y1="815.50" x2="184.20" y2="818.50" stroke="#333333" stroke-width="1.3" />
<text transform="translate(184.20,829.20) scale(1,1.13)" font-size="9.4" fill="#4D4D4D" text-anchor="middle">0.30</text>
<polygon points="61.3,598.8 86.3,613.1 101.0,620.9 111.4,631.0 119.5,638.1 125.9,644.9 132.8,649.8 140.0,651.6 144.4,656.3 153.7,657.8 165.3,660.1 173.3,662.9 180.2,667.6 184.4,671.5 190.5,676.1 194.0,678.6 202.7,683.4 202.7,693.3 194.0,689.8 190.5,687.3 184.4,682.7 180.2,678.8 173.3,674.1 165.3,671.3 153.7,669.0 144.4,667.5 140.0,662.8 132.8,661.1 125.9,657.3 119.5,651.5 111.4,649.1 101.0,639.5 86.3,633.0 61.3,624.1" fill="#FC8D62" fill-opacity="0.22" clip-path="url(#cc0)"/>
<polygon points="61.3,602.7 86.3,617.6 101.0,624.7 111.4,635.0 119.5,640.5 125.9,647.6 132.8,652.4 140.0,654.2 144.4,658.9 153.7,660.4 165.3,662.7 173.3,665.5 180.2,670.2 184.4,674.1 190.5,678.7 194.0,681.2 202.7,685.6 202.7,691.0 194.0,687.2 190.5,684.8 184.4,680.1 180.2,676.2 173.3,671.5 165.3,668.7 153.7,666.4 144.4,664.9 140.0,660.2 132.8,658.4 125.9,653.7 119.5,646.7 111.4,644.5 101.0,634.0 86.3,626.9 61.3,614.2" fill="#FC8D62" fill-opacity="0.32" clip-path="url(#cc0)"/>
<polygon points="61.3,588.4 86.3,614.0 101.0,623.9 111.4,630.0 119.5,640.3 126.0,643.1 132.8,642.2 144.5,644.5 152.6,643.8 157.7,643.3 163.6,641.2 170.5,644.4 176.4,647.6 182.4,651.0 185.8,655.1 191.8,664.3 202.7,676.9 202.7,693.7 191.8,678.3 185.8,668.1 182.4,663.6 176.4,660.0 170.5,656.8 163.6,653.1 157.7,654.6 152.6,657.3 144.5,658.3 132.8,662.9 126.0,661.8 119.5,660.6 111.4,651.9 101.0,647.6 86.3,638.4 61.3,632.6" fill="#8DA0CB" fill-opacity="0.22" clip-path="url(#cc0)"/>
<polygon points="61.3,594.1 86.3,618.4 101.0,628.3 111.4,632.5 119.5,643.1 126.0,646.8 132.8,647.3 144.5,647.6 152.6,646.8 157.7,646.3 163.6,644.3 170.5,647.7 176.4,651.3 182.4,654.7 185.8,658.9 191.8,668.6 202.7,684.5 202.7,690.4 191.8,674.0 185.8,664.1 182.4,659.9 176.4,656.4 170.5,652.9 163.6,649.4 157.7,651.5 152.6,654.2 144.5,655.1 132.8,657.1 126.0,657.3 119.5,655.4 111.4,644.7 101.0,640.4 86.3,630.5 61.3,614.9" fill="#8DA0CB" fill-opacity="0.32" clip-path="url(#cc0)"/>
<polyline points="61.3,606.8 86.3,623.0 101.0,629.6 111.4,638.9 119.5,643.6 125.9,650.6 132.8,655.4 140.0,657.2 144.4,661.9 153.7,663.4 165.3,665.7 173.3,668.5 180.2,673.2 184.4,677.1 190.5,681.7 194.0,684.2 202.7,688.3" fill="none" stroke="#F98456" stroke-width="1.2" stroke-linejoin="round" clip-path="url(#cc0)"/>
<polyline points="61.3,604.4 86.3,625.0 101.0,635.4 111.4,641.4 119.5,649.8 126.0,652.1 132.8,652.0 144.5,651.3 152.6,650.4 157.7,648.9 163.6,646.8 170.5,650.3 176.4,653.8 182.4,657.3 185.8,661.5 191.8,671.3 202.7,687.4" fill="none" stroke="#7A8FCB" stroke-width="1.2" stroke-linejoin="round" clip-path="url(#cc0)"/>
<line x1="57.49" y1="572.50" x2="57.49" y2="575.80" stroke="#222222" stroke-width="1.3" />
<line x1="57.49" y1="815.50" x2="57.49" y2="812.20" stroke="#222222" stroke-width="1.3" />
<line x1="61.30" y1="572.50" x2="61.30" y2="582.50" stroke="#222222" stroke-width="1.8" />
<line x1="61.30" y1="815.50" x2="61.30" y2="805.50" stroke="#222222" stroke-width="1.8" />
<line x1="86.35" y1="572.50" x2="86.35" y2="575.80" stroke="#222222" stroke-width="1.3" />
<line x1="86.35" y1="815.50" x2="86.35" y2="812.20" stroke="#222222" stroke-width="1.3" />
<line x1="101.00" y1="572.50" x2="101.00" y2="575.80" stroke="#222222" stroke-width="1.3" />
<line x1="101.00" y1="815.50" x2="101.00" y2="812.20" stroke="#222222" stroke-width="1.3" />
<line x1="111.39" y1="572.50" x2="111.39" y2="575.80" stroke="#222222" stroke-width="1.3" />
<line x1="111.39" y1="815.50" x2="111.39" y2="812.20" stroke="#222222" stroke-width="1.3" />
<line x1="119.45" y1="572.50" x2="119.45" y2="579.00" stroke="#222222" stroke-width="1.5" />
<line x1="119.45" y1="815.50" x2="119.45" y2="809.00" stroke="#222222" stroke-width="1.5" />
<line x1="126.04" y1="572.50" x2="126.04" y2="575.80" stroke="#222222" stroke-width="1.3" />
<line x1="126.04" y1="815.50" x2="126.04" y2="812.20" stroke="#222222" stroke-width="1.3" />
<line x1="131.61" y1="572.50" x2="131.61" y2="575.80" stroke="#222222" stroke-width="1.3" />
<line x1="131.61" y1="815.50" x2="131.61" y2="812.20" stroke="#222222" stroke-width="1.3" />
<line x1="136.44" y1="572.50" x2="136.44" y2="575.80" stroke="#222222" stroke-width="1.3" />
<line x1="136.44" y1="815.50" x2="136.44" y2="812.20" stroke="#222222" stroke-width="1.3" />
<line x1="140.69" y1="572.50" x2="140.69" y2="575.80" stroke="#222222" stroke-width="1.3" />
<line x1="140.69" y1="815.50" x2="140.69" y2="812.20" stroke="#222222" stroke-width="1.3" />
<line x1="144.50" y1="572.50" x2="144.50" y2="582.50" stroke="#222222" stroke-width="1.8" />
<line x1="144.50" y1="815.50" x2="144.50" y2="805.50" stroke="#222222" stroke-width="1.8" />
<line x1="169.55" y1="572.50" x2="169.55" y2="575.80" stroke="#222222" stroke-width="1.3" />
<line x1="169.55" y1="815.50" x2="169.55" y2="812.20" stroke="#222222" stroke-width="1.3" />
<line x1="184.20" y1="572.50" x2="184.20" y2="575.80" stroke="#222222" stroke-width="1.3" />
<line x1="184.20" y1="815.50" x2="184.20" y2="812.20" stroke="#222222" stroke-width="1.3" />
<line x1="194.59" y1="572.50" x2="194.59" y2="575.80" stroke="#222222" stroke-width="1.3" />
<line x1="194.59" y1="815.50" x2="194.59" y2="812.20" stroke="#222222" stroke-width="1.3" />
<line x1="202.65" y1="572.50" x2="202.65" y2="579.00" stroke="#222222" stroke-width="1.5" />
<line x1="202.65" y1="815.50" x2="202.65" y2="809.00" stroke="#222222" stroke-width="1.5" />
<line x1="209.24" y1="572.50" x2="209.24" y2="575.80" stroke="#222222" stroke-width="1.3" />
<line x1="209.24" y1="815.50" x2="209.24" y2="812.20" stroke="#222222" stroke-width="1.3" />
<line x1="54.50" y1="813.69" x2="57.80" y2="813.69" stroke="#222222" stroke-width="1.3" />
<line x1="54.50" y1="808.79" x2="57.80" y2="808.79" stroke="#222222" stroke-width="1.3" />
<line x1="54.50" y1="804.40" x2="64.50" y2="804.40" stroke="#222222" stroke-width="1.8" />
<line x1="54.50" y1="775.53" x2="57.80" y2="775.53" stroke="#222222" stroke-width="1.3" />
<line x1="54.50" y1="758.64" x2="57.80" y2="758.64" stroke="#222222" stroke-width="1.3" />
<line x1="54.50" y1="746.66" x2="57.80" y2="746.66" stroke="#222222" stroke-width="1.3" />
<line x1="54.50" y1="737.37" x2="61.00" y2="737.37" stroke="#222222" stroke-width="1.5" />
<line x1="54.50" y1="729.78" x2="57.80" y2="729.78" stroke="#222222" stroke-width="1.3" />
<line x1="54.50" y1="723.36" x2="57.80" y2="723.36" stroke="#222222" stroke-width="1.3" />
<line x1="54.50" y1="717.79" x2="57.80" y2="717.79" stroke="#222222" stroke-width="1.3" />
<line x1="54.50" y1="712.89" x2="57.80" y2="712.89" stroke="#222222" stroke-width="1.3" />
<line x1="54.50" y1="708.50" x2="64.50" y2="708.50" stroke="#222222" stroke-width="1.8" />
<line x1="54.50" y1="679.63" x2="57.80" y2="679.63" stroke="#222222" stroke-width="1.3" />
<line x1="54.50" y1="662.74" x2="57.80" y2="662.74" stroke="#222222" stroke-width="1.3" />
<line x1="54.50" y1="650.76" x2="57.80" y2="650.76" stroke="#222222" stroke-width="1.3" />
<line x1="54.50" y1="641.47" x2="61.00" y2="641.47" stroke="#222222" stroke-width="1.5" />
<line x1="54.50" y1="633.88" x2="57.80" y2="633.88" stroke="#222222" stroke-width="1.3" />
<line x1="54.50" y1="627.46" x2="57.80" y2="627.46" stroke="#222222" stroke-width="1.3" />
<line x1="54.50" y1="621.89" x2="57.80" y2="621.89" stroke="#222222" stroke-width="1.3" />
<line x1="54.50" y1="616.99" x2="57.80" y2="616.99" stroke="#222222" stroke-width="1.3" />
<line x1="54.50" y1="612.60" x2="64.50" y2="612.60" stroke="#222222" stroke-width="1.8" />
<line x1="54.50" y1="583.73" x2="57.80" y2="583.73" stroke="#222222" stroke-width="1.3" />
<rect x="54.50" y="572.50" width="155.00" height="243.00" fill="none" stroke="#333333" stroke-width="1" />
<text x="132.00" y="562.8" font-size="10" fill="#1A1A1A" text-anchor="middle">S<tspan font-size="6.3" dy="1.2">proxy</tspan></text>
<clipPath id="cc1"><rect x="216.5" y="572.5" width="155.0" height="243.0"/></clipPath>
<line x1="216.50" y1="804.50" x2="371.50" y2="804.50" stroke="#EBEBEB" stroke-width="1" />
<line x1="216.50" y1="708.50" x2="371.50" y2="708.50" stroke="#EBEBEB" stroke-width="1" />
<line x1="216.50" y1="612.50" x2="371.50" y2="612.50" stroke="#EBEBEB" stroke-width="1" />
<line x1="223.50" y1="572.50" x2="223.50" y2="815.50" stroke="#EBEBEB" stroke-width="1" />
<line x1="262.50" y1="572.50" x2="262.50" y2="815.50" stroke="#EBEBEB" stroke-width="1" />
<line x1="306.50" y1="572.50" x2="306.50" y2="815.50" stroke="#EBEBEB" stroke-width="1" />
<line x1="346.50" y1="572.50" x2="346.50" y2="815.50" stroke="#EBEBEB" stroke-width="1" />
<rect x="216.50" y="549.50" width="155.00" height="23.00" fill="#D9D9D9" stroke="#333333" stroke-width="1" />
<line x1="223.30" y1="546.10" x2="223.30" y2="549.50" stroke="#333333" stroke-width="1.3" />
<text transform="translate(223.30,543.60) scale(1,1.13)" font-size="9.4" fill="#4D4D4D" text-anchor="middle">100</text>
<line x1="266.80" y1="546.10" x2="266.80" y2="549.50" stroke="#333333" stroke-width="1.3" />
<text transform="translate(266.80,543.60) scale(1,1.13)" font-size="9.4" fill="#4D4D4D" text-anchor="middle">30</text>
<line x1="306.50" y1="546.10" x2="306.50" y2="549.50" stroke="#333333" stroke-width="1.3" />
<text transform="translate(306.50,543.60) scale(1,1.13)" font-size="9.4" fill="#4D4D4D" text-anchor="middle">10</text>
<line x1="350.00" y1="546.10" x2="350.00" y2="549.50" stroke="#333333" stroke-width="1.3" />
<text transform="translate(350.00,543.60) scale(1,1.13)" font-size="9.4" fill="#4D4D4D" text-anchor="middle">3</text>
<line x1="223.30" y1="815.50" x2="223.30" y2="818.50" stroke="#333333" stroke-width="1.3" />
<text transform="translate(223.30,829.20) scale(1,1.13)" font-size="9.4" fill="#4D4D4D" text-anchor="middle">0.01</text>
<line x1="263.00" y1="815.50" x2="263.00" y2="818.50" stroke="#333333" stroke-width="1.3" />
<text transform="translate(263.00,829.20) scale(1,1.13)" font-size="9.4" fill="#4D4D4D" text-anchor="middle">0.03</text>
<line x1="306.50" y1="815.50" x2="306.50" y2="818.50" stroke="#333333" stroke-width="1.3" />
<text transform="translate(306.50,829.20) scale(1,1.13)" font-size="9.4" fill="#4D4D4D" text-anchor="middle">0.10</text>
<line x1="346.20" y1="815.50" x2="346.20" y2="818.50" stroke="#333333" stroke-width="1.3" />
<text transform="translate(346.20,829.20) scale(1,1.13)" font-size="9.4" fill="#4D4D4D" text-anchor="middle">0.30</text>
<polygon points="223.3,626.0 248.3,632.0 263.0,640.0 281.5,655.0 290.0,665.2 306.5,669.9 325.0,677.4 337.9,678.0 350.7,681.5 364.6,690.9 364.6,729.4 350.7,715.4 337.9,707.2 325.0,708.4 306.5,696.7 290.0,688.5 273.4,669.7 263.0,666.2 248.3,657.5 223.3,655.1" fill="#8DA0CB" fill-opacity="0.22" clip-path="url(#cc1)"/>
<polygon points="223.3,631.2 248.3,641.1 263.0,649.3 273.4,652.0 281.5,661.0 290.0,669.3 306.5,676.9 325.0,685.0 337.9,685.0 350.7,689.7 364.6,703.7 364.6,721.2 350.7,706.0 337.9,699.0 325.0,701.4 306.5,690.9 290.0,681.5 281.5,672.5 273.4,663.0 263.0,659.2 248.3,652.2 223.3,647.6" fill="#8DA0CB" fill-opacity="0.32" clip-path="url(#cc1)"/>
<polygon points="223.3,607.3 248.3,618.4 263.0,626.0 281.5,641.7 290.0,654.0 306.5,675.1 325.0,676.3 344.9,687.4 364.6,697.9 364.6,706.0 344.9,693.2 325.0,687.4 306.5,682.7 288.0,663.9 281.5,658.1 273.4,649.9 263.0,641.7 248.3,634.1 223.3,630.6" fill="#FC8D62" fill-opacity="0.22" clip-path="url(#cc1)"/>
<polygon points="223.3,611.4 248.3,622.7 263.0,630.0 273.4,640.2 281.5,648.9 288.0,657.3 290.0,658.7 297.0,665.3 301.7,670.7 306.5,676.6 313.4,679.3 325.0,680.9 332.0,682.4 339.0,684.7 344.9,687.4 350.7,693.7 356.6,698.3 364.6,701.0 364.6,707.0 356.6,704.1 350.7,699.3 344.9,692.9 339.0,690.0 332.0,687.5 325.0,685.8 313.4,683.9 306.5,681.0 301.7,675.4 297.0,670.4 290.0,664.3 288.0,663.0 281.5,655.2 273.4,647.1 263.0,637.6 248.3,631.2 223.3,621.3" fill="#FC8D62" fill-opacity="0.32" clip-path="url(#cc1)"/>
<polyline points="223.3,637.6 248.3,645.8 263.0,654.6 273.4,657.5 281.5,666.8 288.0,671.5 290.0,673.4 297.0,676.3 306.5,683.3 313.4,686.8 319.2,690.3 326.2,694.1 332.0,692.3 337.9,692.0 343.7,695.5 350.7,699.0 356.6,702.6 364.6,710.5" fill="none" stroke="#7A8FCB" stroke-width="1.2" stroke-linejoin="round" clip-path="url(#cc1)"/>
<polyline points="223.3,615.1 248.3,626.0 263.0,633.0 273.4,643.0 281.5,651.5 288.0,659.7 290.0,661.1 297.0,667.5 301.7,672.8 306.5,678.6 313.4,681.5 325.0,683.3 332.0,685.0 339.0,687.4 344.9,690.3 350.7,696.7 356.6,701.4 364.6,704.3" fill="none" stroke="#F98456" stroke-width="1.2" stroke-linejoin="round" clip-path="url(#cc1)"/>
<line x1="219.49" y1="572.50" x2="219.49" y2="575.80" stroke="#222222" stroke-width="1.3" />
<line x1="219.49" y1="815.50" x2="219.49" y2="812.20" stroke="#222222" stroke-width="1.3" />
<line x1="223.30" y1="572.50" x2="223.30" y2="582.50" stroke="#222222" stroke-width="1.8" />
<line x1="223.30" y1="815.50" x2="223.30" y2="805.50" stroke="#222222" stroke-width="1.8" />
<line x1="248.35" y1="572.50" x2="248.35" y2="575.80" stroke="#222222" stroke-width="1.3" />
<line x1="248.35" y1="815.50" x2="248.35" y2="812.20" stroke="#222222" stroke-width="1.3" />
<line x1="263.00" y1="572.50" x2="263.00" y2="575.80" stroke="#222222" stroke-width="1.3" />
<line x1="263.00" y1="815.50" x2="263.00" y2="812.20" stroke="#222222" stroke-width="1.3" />
<line x1="273.39" y1="572.50" x2="273.39" y2="575.80" stroke="#222222" stroke-width="1.3" />
<line x1="273.39" y1="815.50" x2="273.39" y2="812.20" stroke="#222222" stroke-width="1.3" />
<line x1="281.45" y1="572.50" x2="281.45" y2="579.00" stroke="#222222" stroke-width="1.5" />
<line x1="281.45" y1="815.50" x2="281.45" y2="809.00" stroke="#222222" stroke-width="1.5" />
<line x1="288.04" y1="572.50" x2="288.04" y2="575.80" stroke="#222222" stroke-width="1.3" />
<line x1="288.04" y1="815.50" x2="288.04" y2="812.20" stroke="#222222" stroke-width="1.3" />
<line x1="293.61" y1="572.50" x2="293.61" y2="575.80" stroke="#222222" stroke-width="1.3" />
<line x1="293.61" y1="815.50" x2="293.61" y2="812.20" stroke="#222222" stroke-width="1.3" />
<line x1="298.44" y1="572.50" x2="298.44" y2="575.80" stroke="#222222" stroke-width="1.3" />
<line x1="298.44" y1="815.50" x2="298.44" y2="812.20" stroke="#222222" stroke-width="1.3" />
<line x1="302.69" y1="572.50" x2="302.69" y2="575.80" stroke="#222222" stroke-width="1.3" />
<line x1="302.69" y1="815.50" x2="302.69" y2="812.20" stroke="#222222" stroke-width="1.3" />
<line x1="306.50" y1="572.50" x2="306.50" y2="582.50" stroke="#222222" stroke-width="1.8" />
<line x1="306.50" y1="815.50" x2="306.50" y2="805.50" stroke="#222222" stroke-width="1.8" />
<line x1="331.55" y1="572.50" x2="331.55" y2="575.80" stroke="#222222" stroke-width="1.3" />
<line x1="331.55" y1="815.50" x2="331.55" y2="812.20" stroke="#222222" stroke-width="1.3" />
<line x1="346.20" y1="572.50" x2="346.20" y2="575.80" stroke="#222222" stroke-width="1.3" />
<line x1="346.20" y1="815.50" x2="346.20" y2="812.20" stroke="#222222" stroke-width="1.3" />
<line x1="356.59" y1="572.50" x2="356.59" y2="575.80" stroke="#222222" stroke-width="1.3" />
<line x1="356.59" y1="815.50" x2="356.59" y2="812.20" stroke="#222222" stroke-width="1.3" />
<line x1="364.65" y1="572.50" x2="364.65" y2="579.00" stroke="#222222" stroke-width="1.5" />
<line x1="364.65" y1="815.50" x2="364.65" y2="809.00" stroke="#222222" stroke-width="1.5" />
<line x1="371.24" y1="572.50" x2="371.24" y2="575.80" stroke="#222222" stroke-width="1.3" />
<line x1="371.24" y1="815.50" x2="371.24" y2="812.20" stroke="#222222" stroke-width="1.3" />
<line x1="216.50" y1="813.69" x2="219.80" y2="813.69" stroke="#222222" stroke-width="1.3" />
<line x1="216.50" y1="808.79" x2="219.80" y2="808.79" stroke="#222222" stroke-width="1.3" />
<line x1="216.50" y1="804.40" x2="226.50" y2="804.40" stroke="#222222" stroke-width="1.8" />
<line x1="216.50" y1="775.53" x2="219.80" y2="775.53" stroke="#222222" stroke-width="1.3" />
<line x1="216.50" y1="758.64" x2="219.80" y2="758.64" stroke="#222222" stroke-width="1.3" />
<line x1="216.50" y1="746.66" x2="219.80" y2="746.66" stroke="#222222" stroke-width="1.3" />
<line x1="216.50" y1="737.37" x2="223.00" y2="737.37" stroke="#222222" stroke-width="1.5" />
<line x1="216.50" y1="729.78" x2="219.80" y2="729.78" stroke="#222222" stroke-width="1.3" />
<line x1="216.50" y1="723.36" x2="219.80" y2="723.36" stroke="#222222" stroke-width="1.3" />
<line x1="216.50" y1="717.79" x2="219.80" y2="717.79" stroke="#222222" stroke-width="1.3" />
<line x1="216.50" y1="712.89" x2="219.80" y2="712.89" stroke="#222222" stroke-width="1.3" />
<line x1="216.50" y1="708.50" x2="226.50" y2="708.50" stroke="#222222" stroke-width="1.8" />
<line x1="216.50" y1="679.63" x2="219.80" y2="679.63" stroke="#222222" stroke-width="1.3" />
<line x1="216.50" y1="662.74" x2="219.80" y2="662.74" stroke="#222222" stroke-width="1.3" />
<line x1="216.50" y1="650.76" x2="219.80" y2="650.76" stroke="#222222" stroke-width="1.3" />
<line x1="216.50" y1="641.47" x2="223.00" y2="641.47" stroke="#222222" stroke-width="1.5" />
<line x1="216.50" y1="633.88" x2="219.80" y2="633.88" stroke="#222222" stroke-width="1.3" />
<line x1="216.50" y1="627.46" x2="219.80" y2="627.46" stroke="#222222" stroke-width="1.3" />
<line x1="216.50" y1="621.89" x2="219.80" y2="621.89" stroke="#222222" stroke-width="1.3" />
<line x1="216.50" y1="616.99" x2="219.80" y2="616.99" stroke="#222222" stroke-width="1.3" />
<line x1="216.50" y1="612.60" x2="226.50" y2="612.60" stroke="#222222" stroke-width="1.8" />
<line x1="216.50" y1="583.73" x2="219.80" y2="583.73" stroke="#222222" stroke-width="1.3" />
<rect x="216.50" y="572.50" width="155.00" height="243.00" fill="none" stroke="#333333" stroke-width="1" />
<text x="294.00" y="562.8" font-size="10" fill="#1A1A1A" text-anchor="middle">S<tspan font-size="6.3" dy="1.2">noise</tspan></text>
<clipPath id="cc2"><rect x="378.5" y="572.5" width="155.0" height="243.0"/></clipPath>
<line x1="378.50" y1="804.50" x2="533.50" y2="804.50" stroke="#EBEBEB" stroke-width="1" />
<line x1="378.50" y1="708.50" x2="533.50" y2="708.50" stroke="#EBEBEB" stroke-width="1" />
<line x1="378.50" y1="612.50" x2="533.50" y2="612.50" stroke="#EBEBEB" stroke-width="1" />
<line x1="385.50" y1="572.50" x2="385.50" y2="815.50" stroke="#EBEBEB" stroke-width="1" />
<line x1="424.50" y1="572.50" x2="424.50" y2="815.50" stroke="#EBEBEB" stroke-width="1" />
<line x1="468.50" y1="572.50" x2="468.50" y2="815.50" stroke="#EBEBEB" stroke-width="1" />
<line x1="508.50" y1="572.50" x2="508.50" y2="815.50" stroke="#EBEBEB" stroke-width="1" />
<rect x="378.50" y="549.50" width="155.00" height="23.00" fill="#D9D9D9" stroke="#333333" stroke-width="1" />
<line x1="385.30" y1="546.10" x2="385.30" y2="549.50" stroke="#333333" stroke-width="1.3" />
<text transform="translate(385.30,543.60) scale(1,1.13)" font-size="9.4" fill="#4D4D4D" text-anchor="middle">100</text>
<line x1="428.80" y1="546.10" x2="428.80" y2="549.50" stroke="#333333" stroke-width="1.3" />
<text transform="translate(428.80,543.60) scale(1,1.13)" font-size="9.4" fill="#4D4D4D" text-anchor="middle">30</text>
<line x1="468.50" y1="546.10" x2="468.50" y2="549.50" stroke="#333333" stroke-width="1.3" />
<text transform="translate(468.50,543.60) scale(1,1.13)" font-size="9.4" fill="#4D4D4D" text-anchor="middle">10</text>
<line x1="512.00" y1="546.10" x2="512.00" y2="549.50" stroke="#333333" stroke-width="1.3" />
<text transform="translate(512.00,543.60) scale(1,1.13)" font-size="9.4" fill="#4D4D4D" text-anchor="middle">3</text>
<line x1="385.30" y1="815.50" x2="385.30" y2="818.50" stroke="#333333" stroke-width="1.3" />
<text transform="translate(385.30,829.20) scale(1,1.13)" font-size="9.4" fill="#4D4D4D" text-anchor="middle">0.01</text>
<line x1="425.00" y1="815.50" x2="425.00" y2="818.50" stroke="#333333" stroke-width="1.3" />
<text transform="translate(425.00,829.20) scale(1,1.13)" font-size="9.4" fill="#4D4D4D" text-anchor="middle">0.03</text>
<line x1="468.50" y1="815.50" x2="468.50" y2="818.50" stroke="#333333" stroke-width="1.3" />
<text transform="translate(468.50,829.20) scale(1,1.13)" font-size="9.4" fill="#4D4D4D" text-anchor="middle">0.10</text>
<line x1="508.20" y1="815.50" x2="508.20" y2="818.50" stroke="#333333" stroke-width="1.3" />
<text transform="translate(508.20,829.20) scale(1,1.13)" font-size="9.4" fill="#4D4D4D" text-anchor="middle">0.30</text>
<polygon points="435.4,708.4 443.5,704.7 450.0,704.1 455.6,705.0 460.4,697.1 464.7,695.0 468.5,696.6 474.1,693.9 480.2,692.8 484.8,694.4 492.4,695.7 497.0,697.1 500.0,698.8 503.1,703.1 506.2,709.0 510.0,713.3 513.9,714.4 518.5,716.0 523.0,719.2 526.7,723.0 526.7,747.9 523.0,745.6 518.5,743.4 513.9,743.2 510.0,739.1 506.2,734.3 503.1,729.0 500.0,725.7 497.0,723.0 492.4,721.4 484.8,719.2 480.2,717.6 474.1,718.1 468.5,719.2 464.7,718.1 460.4,721.4 455.6,731.1 450.0,730.0 443.5,748.0 435.4,880.8" fill="#FC8D62" fill-opacity="0.22" clip-path="url(#cc2)"/>
<polygon points="425.0,720.4 435.4,721.4 443.5,711.9 450.0,710.1 455.6,710.6 460.4,701.8 464.7,699.9 468.5,702.4 474.1,699.8 480.2,699.3 484.8,700.4 492.4,702.5 497.0,703.6 500.0,705.2 503.1,709.5 506.2,715.4 510.0,719.8 513.9,720.8 518.5,722.4 523.0,725.7 526.7,729.4 526.7,741.8 523.0,739.1 518.5,736.4 513.9,734.8 510.0,733.8 506.2,729.4 503.1,723.0 500.0,718.1 497.0,716.0 492.4,714.9 484.8,712.8 480.2,711.9 474.1,712.2 468.5,713.7 464.7,711.9 460.4,714.4 455.6,724.5 450.0,722.6 443.5,725.0 435.4,765.1 425.0,793.0" fill="#FC8D62" fill-opacity="0.32" clip-path="url(#cc2)"/>
<polygon points="410.3,642.2 425.0,656.8 435.4,669.7 443.5,675.2 450.1,678.6 455.6,673.4 456.8,672.9 468.5,667.5 476.6,663.2 481.7,660.0 487.6,655.9 494.5,661.1 500.4,666.4 506.4,669.7 509.8,674.5 514.1,682.6 519.2,695.5 526.7,711.9 526.7,749.8 519.2,725.7 514.1,710.6 509.8,703.1 506.4,696.6 500.4,688.0 494.5,681.5 487.6,675.6 481.7,678.3 476.6,681.5 468.5,686.9 456.8,702.1 450.1,706.2 443.5,710.3 435.4,717.4 425.0,717.4 410.3,728.6" fill="#8DA0CB" fill-opacity="0.22" clip-path="url(#cc2)"/>
<polygon points="385.3,607.3 410.3,650.7 425.0,665.9 435.4,681.7 443.5,686.9 450.1,686.4 456.8,680.4 468.5,672.9 476.6,666.4 481.7,662.7 487.6,659.4 494.5,664.8 500.4,670.6 506.4,673.4 509.8,677.8 514.1,686.0 519.2,699.8 526.7,716.1 526.7,735.0 519.2,716.0 514.1,700.7 509.8,689.1 506.4,682.1 500.4,678.3 494.5,672.9 487.6,667.8 481.7,670.8 476.6,677.8 468.5,684.2 456.8,691.2 450.1,697.7 443.5,699.8 435.4,700.0 425.0,684.8 410.3,681.7 385.3,666.4" fill="#8DA0CB" fill-opacity="0.32" clip-path="url(#cc2)"/>
<polyline points="385.3,679.6 410.3,742.2 425.0,743.7 435.4,738.0 443.5,720.1 450.0,715.7 455.6,717.5 460.4,708.1 464.7,705.5 468.5,708.1 474.1,705.5 480.2,704.7 484.8,706.4 492.4,708.6 497.0,709.5 500.0,711.5 503.1,715.9 506.2,722.1 510.0,726.5 513.9,727.2 518.5,729.0 523.0,732.2 526.7,735.8" fill="none" stroke="#F98456" stroke-width="1.2" stroke-linejoin="round" clip-path="url(#cc2)"/>
<polyline points="385.3,629.0 398.0,647.1 410.3,663.0 425.0,677.6 435.4,689.9 443.5,692.9 450.1,691.9 456.8,685.8 462.4,681.6 468.5,678.4 476.6,672.0 481.7,666.4 487.6,662.9 494.5,669.2 500.4,674.8 506.4,678.3 509.8,683.9 514.1,693.7 519.2,706.3 526.7,724.6" fill="none" stroke="#7A8FCB" stroke-width="1.2" stroke-linejoin="round" clip-path="url(#cc2)"/>
<line x1="381.49" y1="572.50" x2="381.49" y2="575.80" stroke="#222222" stroke-width="1.3" />
<line x1="381.49" y1="815.50" x2="381.49" y2="812.20" stroke="#222222" stroke-width="1.3" />
<line x1="385.30" y1="572.50" x2="385.30" y2="582.50" stroke="#222222" stroke-width="1.8" />
<line x1="385.30" y1="815.50" x2="385.30" y2="805.50" stroke="#222222" stroke-width="1.8" />
<line x1="410.35" y1="572.50" x2="410.35" y2="575.80" stroke="#222222" stroke-width="1.3" />
<line x1="410.35" y1="815.50" x2="410.35" y2="812.20" stroke="#222222" stroke-width="1.3" />
<line x1="425.00" y1="572.50" x2="425.00" y2="575.80" stroke="#222222" stroke-width="1.3" />
<line x1="425.00" y1="815.50" x2="425.00" y2="812.20" stroke="#222222" stroke-width="1.3" />
<line x1="435.39" y1="572.50" x2="435.39" y2="575.80" stroke="#222222" stroke-width="1.3" />
<line x1="435.39" y1="815.50" x2="435.39" y2="812.20" stroke="#222222" stroke-width="1.3" />
<line x1="443.45" y1="572.50" x2="443.45" y2="579.00" stroke="#222222" stroke-width="1.5" />
<line x1="443.45" y1="815.50" x2="443.45" y2="809.00" stroke="#222222" stroke-width="1.5" />
<line x1="450.04" y1="572.50" x2="450.04" y2="575.80" stroke="#222222" stroke-width="1.3" />
<line x1="450.04" y1="815.50" x2="450.04" y2="812.20" stroke="#222222" stroke-width="1.3" />
<line x1="455.61" y1="572.50" x2="455.61" y2="575.80" stroke="#222222" stroke-width="1.3" />
<line x1="455.61" y1="815.50" x2="455.61" y2="812.20" stroke="#222222" stroke-width="1.3" />
<line x1="460.44" y1="572.50" x2="460.44" y2="575.80" stroke="#222222" stroke-width="1.3" />
<line x1="460.44" y1="815.50" x2="460.44" y2="812.20" stroke="#222222" stroke-width="1.3" />
<line x1="464.69" y1="572.50" x2="464.69" y2="575.80" stroke="#222222" stroke-width="1.3" />
<line x1="464.69" y1="815.50" x2="464.69" y2="812.20" stroke="#222222" stroke-width="1.3" />
<line x1="468.50" y1="572.50" x2="468.50" y2="582.50" stroke="#222222" stroke-width="1.8" />
<line x1="468.50" y1="815.50" x2="468.50" y2="805.50" stroke="#222222" stroke-width="1.8" />
<line x1="493.55" y1="572.50" x2="493.55" y2="575.80" stroke="#222222" stroke-width="1.3" />
<line x1="493.55" y1="815.50" x2="493.55" y2="812.20" stroke="#222222" stroke-width="1.3" />
<line x1="508.20" y1="572.50" x2="508.20" y2="575.80" stroke="#222222" stroke-width="1.3" />
<line x1="508.20" y1="815.50" x2="508.20" y2="812.20" stroke="#222222" stroke-width="1.3" />
<line x1="518.59" y1="572.50" x2="518.59" y2="575.80" stroke="#222222" stroke-width="1.3" />
<line x1="518.59" y1="815.50" x2="518.59" y2="812.20" stroke="#222222" stroke-width="1.3" />
<line x1="526.65" y1="572.50" x2="526.65" y2="579.00" stroke="#222222" stroke-width="1.5" />
<line x1="526.65" y1="815.50" x2="526.65" y2="809.00" stroke="#222222" stroke-width="1.5" />
<line x1="533.24" y1="572.50" x2="533.24" y2="575.80" stroke="#222222" stroke-width="1.3" />
<line x1="533.24" y1="815.50" x2="533.24" y2="812.20" stroke="#222222" stroke-width="1.3" />
<line x1="378.50" y1="813.69" x2="381.80" y2="813.69" stroke="#222222" stroke-width="1.3" />
<line x1="378.50" y1="808.79" x2="381.80" y2="808.79" stroke="#222222" stroke-width="1.3" />
<line x1="378.50" y1="804.40" x2="388.50" y2="804.40" stroke="#222222" stroke-width="1.8" />
<line x1="378.50" y1="775.53" x2="381.80" y2="775.53" stroke="#222222" stroke-width="1.3" />
<line x1="378.50" y1="758.64" x2="381.80" y2="758.64" stroke="#222222" stroke-width="1.3" />
<line x1="378.50" y1="746.66" x2="381.80" y2="746.66" stroke="#222222" stroke-width="1.3" />
<line x1="378.50" y1="737.37" x2="385.00" y2="737.37" stroke="#222222" stroke-width="1.5" />
<line x1="378.50" y1="729.78" x2="381.80" y2="729.78" stroke="#222222" stroke-width="1.3" />
<line x1="378.50" y1="723.36" x2="381.80" y2="723.36" stroke="#222222" stroke-width="1.3" />
<line x1="378.50" y1="717.79" x2="381.80" y2="717.79" stroke="#222222" stroke-width="1.3" />
<line x1="378.50" y1="712.89" x2="381.80" y2="712.89" stroke="#222222" stroke-width="1.3" />
<line x1="378.50" y1="708.50" x2="388.50" y2="708.50" stroke="#222222" stroke-width="1.8" />
<line x1="378.50" y1="679.63" x2="381.80" y2="679.63" stroke="#222222" stroke-width="1.3" />
<line x1="378.50" y1="662.74" x2="381.80" y2="662.74" stroke="#222222" stroke-width="1.3" />
<line x1="378.50" y1="650.76" x2="381.80" y2="650.76" stroke="#222222" stroke-width="1.3" />
<line x1="378.50" y1="641.47" x2="385.00" y2="641.47" stroke="#222222" stroke-width="1.5" />
<line x1="378.50" y1="633.88" x2="381.80" y2="633.88" stroke="#222222" stroke-width="1.3" />
<line x1="378.50" y1="627.46" x2="381.80" y2="627.46" stroke="#222222" stroke-width="1.3" />
<line x1="378.50" y1="621.89" x2="381.80" y2="621.89" stroke="#222222" stroke-width="1.3" />
<line x1="378.50" y1="616.99" x2="381.80" y2="616.99" stroke="#222222" stroke-width="1.3" />
<line x1="378.50" y1="612.60" x2="388.50" y2="612.60" stroke="#222222" stroke-width="1.8" />
<line x1="378.50" y1="583.73" x2="381.80" y2="583.73" stroke="#222222" stroke-width="1.3" />
<rect x="378.50" y="572.50" width="155.00" height="243.00" fill="none" stroke="#333333" stroke-width="1" />
<text x="456.00" y="562.8" font-size="10" fill="#1A1A1A" text-anchor="middle">S<tspan font-size="6.3" dy="1.2">clim</tspan></text>
<line x1="50.90" y1="612.60" x2="54.50" y2="612.60" stroke="#333333" stroke-width="1.3" />
<text transform="translate(48.30,616.50) scale(1,1.13)" font-size="9.4" fill="#4D4D4D" text-anchor="end">1.00</text>
<line x1="50.90" y1="708.50" x2="54.50" y2="708.50" stroke="#333333" stroke-width="1.3" />
<text transform="translate(48.30,712.40) scale(1,1.13)" font-size="9.4" fill="#4D4D4D" text-anchor="end">0.10</text>
<line x1="50.90" y1="804.40" x2="54.50" y2="804.40" stroke="#333333" stroke-width="1.3" />
<text transform="translate(48.30,808.30) scale(1,1.13)" font-size="9.4" fill="#4D4D4D" text-anchor="end">0.01</text>
<text transform="translate(20.2,694) rotate(-90)" font-size="12.2" fill="#000" text-anchor="middle">PSD [K<tspan dy="-4.5" font-size="8.5">2</tspan><tspan dy="4.5">yr]</tspan></text>
<text x="293.80" y="841.80" font-size="12.2" fill="#000" text-anchor="middle" >Frequency [1/years]</text>
<rect x="594.70" y="685.00" width="17.30" height="17.10" fill="#FC8D62" stroke="none" stroke-width="0" fill-opacity="0.45"/>
<line x1="595.70" y1="693.60" x2="611.00" y2="693.60" stroke="#F98456" stroke-width="1.3" />
<text x="619.6" y="696.50" font-size="9.4" fill="#000">Sr/Ca</text>
<rect x="594.70" y="704.30" width="17.30" height="17.10" fill="#8DA0CB" stroke="none" stroke-width="0" fill-opacity="0.45"/>
<line x1="595.70" y1="712.90" x2="611.00" y2="712.90" stroke="#7F93CD" stroke-width="1.3" />
<text x="619.6" y="715.80" font-size="9.4" fill="#000">δ<tspan font-size="6.1" dy="-4.3">18</tspan><tspan dy="4.3">O</tspan></text>
</svg></body></html>
